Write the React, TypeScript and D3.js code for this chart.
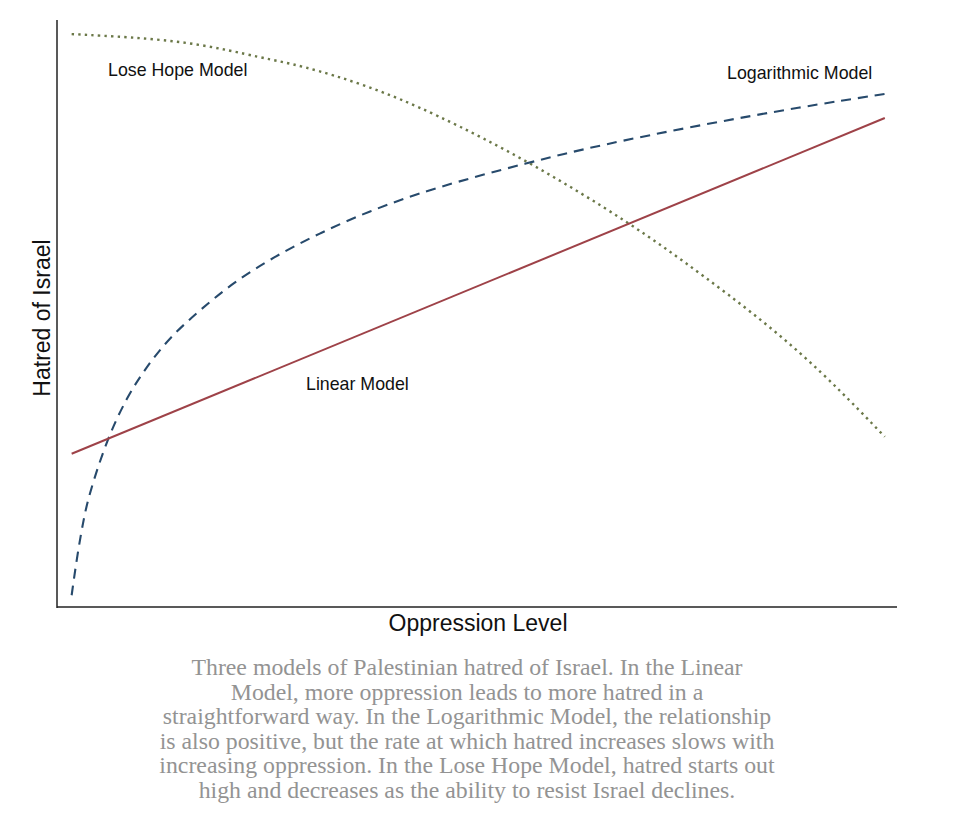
import React from "react";
import * as d3 from "d3";

// oppression level (0..10) and hatred (0..100)
const linearX = [0, 10];
const linearY = [26.1, 83.3];

const logX = [0, 0.07, 0.15, 0.22, 0.43, 0.68, 0.92, 1.21, 1.58, 1.98, 2.48, 3.05, 3.63, 4.45, 5.64, 6.5, 7.73, 8.97, 10];
const logY = [2.0, 8.9, 15.2, 19.4, 28.4, 35.8, 40.9, 46.0, 50.6, 55.2, 59.6, 63.7, 67.3, 71.4, 75.8, 78.7, 82.1, 85.2, 87.4];

const hopeX = [0, 0.71, 1.54, 2.35, 2.81, 3.63, 4.45, 5.64, 6.87, 7.73, 8.97, 10];
const hopeY = [97.6, 97.1, 96.1, 93.5, 92.3, 88.9, 84.2, 75.8, 65.4, 56.9, 43.8, 29.0];

const captionLines = [
  "Three models of Palestinian hatred of Israel. In the Linear",
  "Model, more oppression leads to more hatred in a",
  "straightforward way. In the Logarithmic Model, the relationship",
  "is also positive, but the rate at which hatred increases slows with",
  "increasing oppression. In the Lose Hope Model, hatred starts out",
  "high and decreases as the ability to resist Israel declines.",
];

const W = 958;
const H = 818;
const margin = { top: 20, right: 61, bottom: 211, left: 57 };

export default function App() {
  const x = d3
    .scaleLinear()
    .domain([-0.18, 10.15])
    .range([margin.left, W - margin.right]);
  const y = d3
    .scaleLinear()
    .domain([0, 100])
    .range([H - margin.bottom, margin.top]);

  const toPts = (xs: number[], ys: number[]) => xs.map((v, i) => [v, ys[i]] as [number, number]);
  const line = d3
    .line<[number, number]>()
    .x((d) => x(d[0]))
    .y((d) => y(d[1]))
    .curve(d3.curveBasis);

  const sans = "'Liberation Sans', Arial, Helvetica, sans-serif";
  const x0 = margin.left;
  const x1 = W - margin.right;
  const yb = H - margin.bottom;

  return (
    <svg
      width={W}
      height={H}
      style={{ position: "absolute", left: 0, top: 0, background: "#fff" }}
    >
      {/* axes */}
      <line x1={x0} x2={x0} y1={margin.top} y2={yb + 1} stroke="#222" strokeWidth={1.5} />
      <line x1={x0} x2={x1} y1={yb} y2={yb} stroke="#222" strokeWidth={1.5} />

      {/* lines */}
      <path
        d={line(toPts(hopeX, hopeY)) || ""}
        fill="none"
        stroke="#6b7848"
        strokeWidth={2.4}
        strokeDasharray="2.4 4.2"
      />
      <path
        d={line(toPts(logX, logY)) || ""}
        fill="none"
        stroke="#274a6c"
        strokeWidth={2.1}
        strokeDasharray="10 7"
      />
      <path
        d={line(toPts(linearX, linearY)) || ""}
        fill="none"
        stroke="#9e4248"
        strokeWidth={2}
      />

      {/* labels */}
      <g fontFamily={sans} fontSize={17.8} fill="#111">
        <text x={108} y={76}>Lose Hope Model</text>
        <text x={727} y={79}>Logarithmic Model</text>
        <text x={306} y={390}>Linear Model</text>
      </g>
      <text
        x={478}
        y={631}
        textAnchor="middle"
        fontFamily={sans}
        fontSize={23}
        fill="#111"
      >
        Oppression Level
      </text>
      <text
        transform={`translate(50,318) rotate(-90)`}
        textAnchor="middle"
        fontFamily={sans}
        fontSize={23}
        fill="#111"
      >
        Hatred of Israel
      </text>

      {/* caption */}
      <g fontFamily="'Liberation Serif', 'Times New Roman', serif" fontSize={23.8} fill="#939393" textAnchor="middle">
        {captionLines.map((t, i) => (
          <text key={i} x={467} y={675 + i * 24.5}>
            {t}
          </text>
        ))}
      </g>
    </svg>
  );
}
